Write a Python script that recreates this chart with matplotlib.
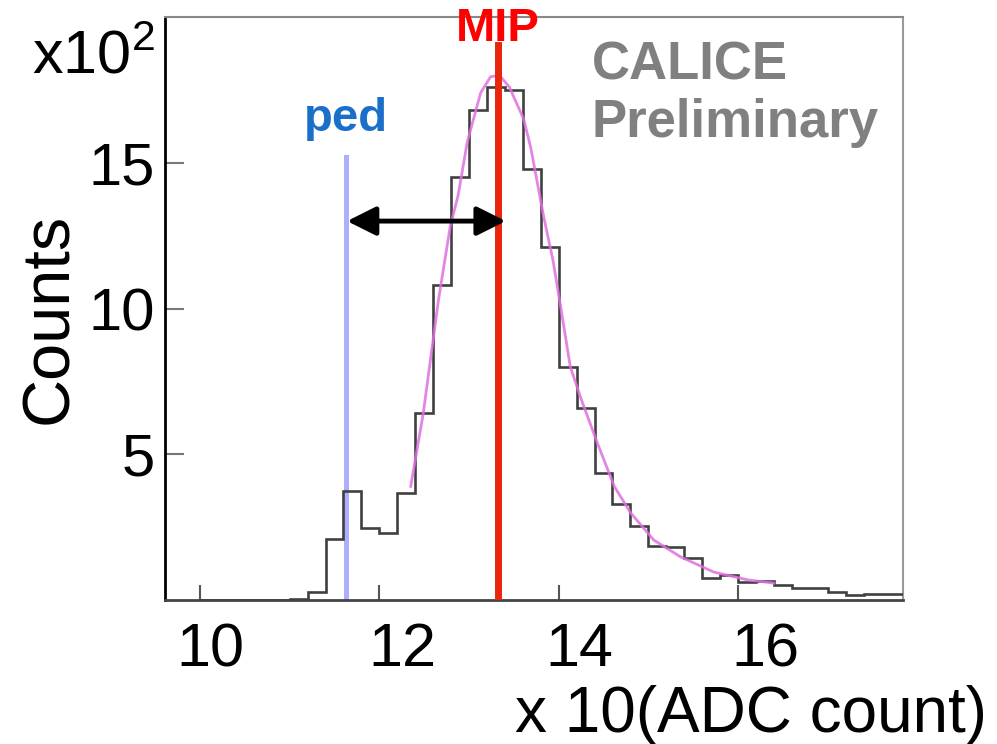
import matplotlib
matplotlib.use("Agg")
import matplotlib.pyplot as plt
import matplotlib.transforms as mtransforms

plt.rcParams['font.family'] = ['Liberation Sans', 'DejaVu Sans']
plt.rcParams['mathtext.fontset'] = 'custom'
plt.rcParams['mathtext.rm'] = 'Liberation Sans'

# histogram, counts in units of 100, bins of 0.2 (x10 ADC)
bin_edges = [10.0, 10.2, 10.4, 10.6, 10.8, 11.0, 11.2, 11.4, 11.6, 11.8,
             12.0, 12.2, 12.4, 12.6, 12.8, 13.0, 13.2, 13.4, 13.6, 13.8,
             14.0, 14.2, 14.4, 14.6, 14.8, 15.0, 15.2, 15.4, 15.6, 15.8,
             16.0, 16.2, 16.4, 16.6, 16.8, 17.0, 17.2, 17.4, 17.6, 17.8, 18.0]
counts = [0, 0, 0, 0, 0, 0.05, 0.27, 2.1, 3.75, 2.47,
          2.3, 3.67, 6.4, 10.8, 14.5, 16.8, 17.6, 17.5, 14.8, 12.1,
          8.0, 6.6, 4.35, 3.3, 2.55, 1.85, 1.82, 1.44, 0.75, 0.86,
          0.62, 0.65, 0.52, 0.4, 0.4, 0.28, 0.17, 0.2, 0.2, 0.2]

# fitted curve
fit_x = [12.35, 12.49, 12.66, 12.79, 12.88, 12.98, 13.13, 13.24, 13.34, 13.45,
         13.61, 13.69, 13.83, 13.94, 14.02, 14.13, 14.25, 14.43, 14.62, 14.80,
         15.06, 15.36, 15.73, 16.11, 16.40]
fit_y = [3.9, 6.4, 10.3, 12.8, 13.9, 15.7, 17.4, 17.95, 18.0, 17.6,
         16.5, 15.5, 13.2, 11.6, 10.1, 8.0, 6.9, 5.4, 3.9, 3.0,
         2.06, 1.48, 0.96, 0.69, 0.58]

ped_x = 11.63
ped_top = 15.2
mip_x = 13.32
mip_top = 19.05
arrow_y = 13.0
arrow_x = [11.64, 13.41]

xticks = [10, 12, 14, 16]
yticks = [5, 10, 15]
# the tick numbers sit a bit right of their ticks in the original (pixels)
xlabel_nudge = [10, 23, 21, 27]

fig = plt.figure(figsize=(9.97, 7.44), dpi=100)
ax = fig.add_axes([0.1655, 0.1935, 0.7402, 0.7836])

ax.stairs(counts, bin_edges, baseline=None, color='#404040', lw=1.9, zorder=3)
ax.plot(fit_x, fit_y, color='#e070e0', lw=2.0, alpha=0.85, zorder=4)

ax.plot([ped_x, ped_x], [0, ped_top], color='#aeaeff', lw=3.6, zorder=2)
ax.plot([mip_x, mip_x], [0, mip_top], color='#e8260c', lw=5, zorder=5)

ax.annotate('', xy=(arrow_x[0], arrow_y), xytext=(arrow_x[1], arrow_y),
            arrowprops=dict(arrowstyle='<|-|>', color='black', lw=3.5,
                            mutation_scale=44, shrinkA=0, shrinkB=0),
            zorder=6)

ax.text(ped_x, 15.75, 'ped', color='#1a6fc8', fontsize=34, fontweight='bold',
        ha='center', va='bottom')
ax.text(mip_x, 18.83, 'MIP', color='#ff0000', fontsize=34, fontweight='bold',
        ha='center', va='bottom')
ax.text(0.578, 0.96, 'CALICE\nPreliminary', transform=ax.transAxes,
        color='#808080', fontsize=38, fontweight='bold', ha='left', va='top',
        linespacing=1.2)

ax.set_xlim(9.61, 17.84)
ax.set_ylim(0, 20)
ax.set_xticks(xticks)
ax.set_xticklabels([str(t) for t in xticks])
ax.set_yticks(yticks)
ax.set_yticklabels([str(t) for t in yticks])
ax.tick_params(axis='x', direction='in', length=11, width=1.5, color='#555555',
               labelsize=44, pad=16)
ax.tick_params(axis='y', direction='in', length=14, width=1.5, color='#777777',
               labelsize=43, pad=7)
for lab, dx in zip(ax.get_xticklabels(), xlabel_nudge):
    off = mtransforms.ScaledTranslation(dx / 100, 0, fig.dpi_scale_trans)
    lab.set_transform(lab.get_transform() + off)

ax.spines['left'].set_color('black')
ax.spines['left'].set_linewidth(2)
ax.spines['bottom'].set_color('#444444')
ax.spines['bottom'].set_linewidth(2)
ax.spines['top'].set_color('#888888')
ax.spines['top'].set_linewidth(1.5)
ax.spines['right'].set_color('#999999')
ax.spines['right'].set_linewidth(1.5)

fig.text(155 / 997, 1 - 58 / 744, r'x10$^{2}$', fontsize=44, ha='right', va='center')
fig.text(50 / 997, 1 - 318 / 744, 'Counts', fontsize=48, rotation=90,
         ha='center', va='center')
fig.text(987 / 997, 1 - 715 / 744, 'x 10(ADC count)', fontsize=46,
         ha='right', va='center')

fig.savefig('out.png', dpi=100)
